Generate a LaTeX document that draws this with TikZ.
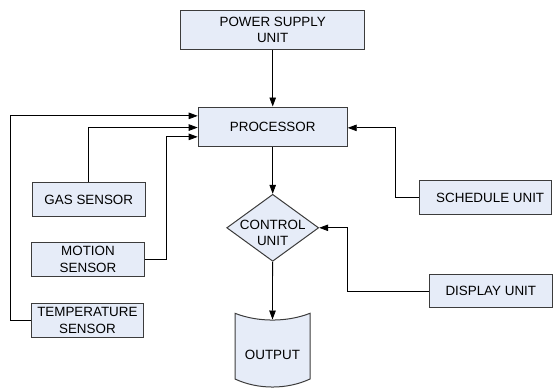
\documentclass[tikz,border=0pt]{standalone}
\usepackage{fontspec}
\setmainfont{Liberation Sans}
\usetikzlibrary{arrows.meta,positioning,shapes.geometric}
\definecolor{boxblue}{RGB}{230,236,248}
\definecolor{boxedge}{RGB}{60,60,60}

\begin{document}
\begin{tikzpicture}[x=1pt, y=-1pt,
  block/.style={rectangle, draw=boxedge, fill=boxblue, line width=1pt, align=center, inner sep=0pt, font=\fontsize{13.4}{16.6}\selectfont},
  decision/.style={diamond, draw=boxedge, fill=boxblue, line width=1pt, inner sep=0pt, minimum width=92pt, minimum height=67pt},
  arrow/.style={-{Triangle[length=9pt,width=6.5pt]}, line width=0.8pt, black}
]
\useasboundingbox (0,0) rectangle (553,388);

\node[block, minimum width=184pt, minimum height=38.6pt] (power) at (272.7,30) {POWER SUPPLY\\UNIT};
\node[block, minimum width=149pt, minimum height=39.7pt, below=56.7pt of power] (proc) {PROCESSOR};
\node[decision, below=46.6pt of proc] (ctrl) {};
\node[font=\fontsize{13.4}{16}\selectfont, align=center] (ctrltext) at ([yshift=-4.8pt]ctrl.center) {CONTROL\\UNIT};

\node[block, minimum width=113pt, minimum height=34.4pt] (gas) at (88.8,199.5) {GAS SENSOR};
\node[block, minimum width=112.6pt, minimum height=33.7pt] (motion) at (88,259.2) {MOTION\\SENSOR};
\node[block, minimum width=112.7pt, minimum height=33.6pt] (temp) at (87.4,320.5) {TEMPERATURE\\SENSOR};
\node[block, minimum width=132.3pt, minimum height=33.6pt] (sched) at (485.2,197.5) {\hspace*{10pt}SCHEDULE UNIT};
\node[block, minimum width=123pt, minimum height=33.7pt] (disp) at (490.8,290.9) {DISPLAY UNIT};

% output sheet
\draw[boxedge, fill=boxblue, line width=1pt] (235,313.3) .. controls (258,322.3) and (287,322.3) .. (310,313.3)
  -- (310,379) .. controls (287,389.7) and (258,389.7) .. (235,379) -- cycle;
\node[font=\fontsize{13.4}{16}\selectfont] (out) at (272.5,355) {OUTPUT};
\coordinate (outtop) at (272.5,319.5);

\draw[arrow] (power) -- (proc);
\draw[arrow] (proc) -- (ctrl);
\draw[arrow] (ctrl) -- (outtop);
\draw[arrow] (temp.west) -- ++(-19.7,0) |- ([yshift=11pt]proc.west);
\draw[arrow] (gas.north) |- ([yshift=-0.7pt]proc.west);
\draw[arrow] (motion.east) -- ++(21.4,0) |- ([yshift=-10pt]proc.west);
\draw[arrow] (sched.west) -- ++(-23.3,0) |- ([yshift=-1pt]proc.east);
\draw[arrow] (disp.west) -- ++(-81,0) |- (ctrl.east);
\end{tikzpicture}
\end{document}
